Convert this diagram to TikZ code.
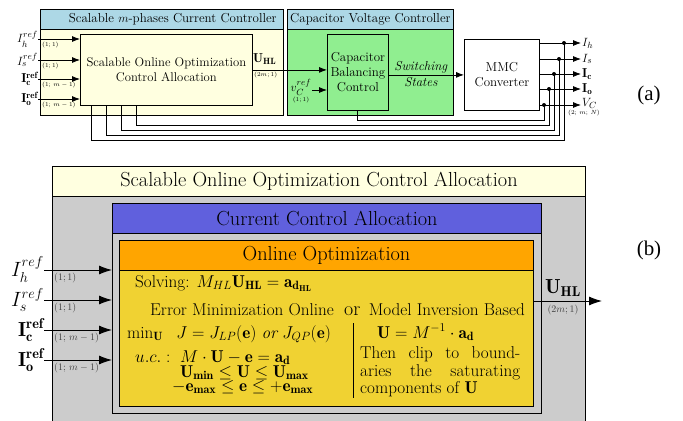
\documentclass[tikz,border=0pt]{standalone}
\usepackage{amsmath}
\usepackage{amssymb}
\usepackage{fontspec}
\newfontfamily\capfont{Liberation Serif}
\usepackage{tikz}
\usetikzlibrary{arrows.meta,positioning,calc}

\definecolor{hdrblue}{HTML}{ADD8E6}
\definecolor{paleyellow}{HTML}{FFFFE0}
\definecolor{ctrlgreen}{HTML}{90EE90}
\definecolor{allocgray}{HTML}{CCCCCC}
\definecolor{ccablue}{HTML}{6060DD}
\definecolor{optorange}{HTML}{FFA500}
\definecolor{optyellow}{HTML}{F0D232}

\tikzset{
  blk/.style={draw, line width=0.8bp, inner sep=0pt, anchor=north west},
  blkb/.style={blk, line width=1bp},
  sig/.style={-{Latex[length=8bp,width=6bp]}, line width=0.8bp},
  sigb/.style={-{Latex[length=13bp,width=9bp]}, line width=0.9bp},
  fb/.style={line width=0.7bp},
  dima/.style={font=\fontsize{6.5}{7}\selectfont, inner sep=0pt},
  dimb/.style={font=\fontsize{10}{11}\selectfont, text=black!75, inner sep=0pt},
  txa/.style={font=\fontsize{13}{15}\selectfont, align=center},
  txb/.style={font=\fontsize{17.2}{19}\selectfont, inner sep=0pt, anchor=base west},
  hdb/.style={font=\fontsize{20.4}{23}\selectfont},
}

\begin{document}
\begin{tikzpicture}[x=1bp, y=-1bp]
    \useasboundingbox (0,0) rectangle (683,420);

    % (a) current controller
    \node[blk, fill=paleyellow, minimum width=243bp, minimum height=106bp] (scc) at (40,9) {};
    \node[blk, fill=hdrblue, minimum width=243bp, minimum height=20bp] (scchd) at (40,9) {};
    \node[txa, anchor=east, inner sep=0pt] (scctitle) at ($(scchd.east)+(-7,0)$) {Scalable $m$-phases Current Controller};
    \node[blk, fill=paleyellow, minimum width=172bp, minimum height=71bp, txa, font=\fontsize{12.7}{15}\selectfont] (soca) at (80,34) {Scalable Online Optimization\\Control Allocation};

    % (a) capacitor voltage controller
    \node[blk, fill=ctrlgreen, minimum width=166bp, minimum height=106bp] (cvc) at (287,9) {};
    \node[blk, fill=hdrblue, minimum width=166bp, minimum height=20bp, txa] (cvchd) at (287,9) {Capacitor Voltage Controller};
    \node[blk, fill=ctrlgreen, minimum width=61bp, minimum height=76bp, txa] (cbc) at (327,34) {Capacitor\\Balancing\\Control};

    % (a) converter
    \node[blk, fill=white, minimum width=75bp, minimum height=71bp, txa] (mmc) at (464,39) {MMC\\Converter};

    % (a) reference inputs
    \foreach \y/\lbl/\dim/\nm in {39/{$I_h^{ref}$}/{$(1;1)$}/ih, 60/{$I_s^{ref}$}/{$(1;1)$}/is,
        79/{$\mathbf{I_c^{ref}}$}/{$(1;\,m-1)$}/ic, 99/{$\mathbf{I_o^{ref}}$}/{$(1;\,m-1)$}/io} {
        \node[txa, anchor=east, inner sep=0pt] (\nm) at (38,\y) {\lbl};
        \draw[sig] (\nm.east) -- (\nm.east -| soca.west);
        \node[dima, anchor=north west] (\nm dim) at (42,\y+3) {\dim};
    }

    % (a) allocation output
    \draw[sig] (soca.east) -- (soca.east -| cbc.west);
    \node[txa, anchor=south west, inner sep=1bp] (uhla) at (252,66) {$\mathbf{U_{HL}}$};
    \node[dima, anchor=north west] (uhladim) at (254,72) {$(2m;1)$};

    % (a) capacitor reference
    \node[txa, inner sep=0pt] (vcref) at (301,87) {$v_C^{ref}$};
    \coordinate (vcin) at (312,90);
    \draw[sig] (vcin) -- (vcin -| cbc.west);
    \node[dima] (vcdim) at (301,100) {$(1;1)$};

    % (a) switching states
    \draw[sig] (mmc.west -| cbc.east) -- (mmc.west);
    \node[txa, inner sep=0pt] (sw1) at (421,67) {\textit{Switching}};
    \node[txa, inner sep=0pt] (sw2) at (421,82) {\textit{States}};

    % (a) measured outputs and feedback
    \foreach \y/\dx/\lev/\tx/\lbl/\nm in {43/564/140/91/{$I_h$}/outh, 59/559/135/106/{$I_s$}/outs,
        74/554/130/121/{$\mathbf{I_c}$}/outc, 89/549/125/136/{$\mathbf{I_o}$}/outo} {
        \coordinate (s\nm) at (mmc.east |- 0,\y);
        \coordinate (d\nm) at (\dx,\y);
        \node[txa, anchor=west, inner sep=1bp] (\nm) at (581,\y) {\lbl};
        \draw[sig] (s\nm) -- (\nm.west);
        \fill (d\nm) circle (2bp);
        \draw[fb] (d\nm) -- (\dx,\lev) -- (\tx,\lev) -- (soca.south -| \tx,0);
    }
    \coordinate (soutv) at (mmc.east |- 0,105);
    \coordinate (doutv) at (544,105);
    \node[txa, anchor=west, inner sep=1bp] (outv) at (581,103) {$V_C$};
    \draw[sig] (soutv) -- (soutv -| outv.west);
    \fill (doutv) circle (2bp);
    \draw[fb] (doutv) -- (544,120) -- (357,120) -- (cbc.south -| 357,0);
    \node[dima] (outvdim) at (584,113) {$(2;\,m;\,N)$};

    \node[font=\capfont\fontsize{21}{23}\selectfont] (lbla) at (649,95) {(a)};

    % (b) nested allocation boxes
    \node[blkb, fill=allocgray, minimum width=533bp, minimum height=262bp] (soc) at (52,166) {};
    \node[blkb, fill=paleyellow, minimum width=533bp, minimum height=30bp, hdb] (sochd) at (52,166) {Scalable Online Optimization Control Allocation};
    \node[blkb, fill=allocgray, minimum width=429bp, minimum height=210bp] (cca) at (112,203) {};
    \node[blkb, fill=ccablue, minimum width=429bp, minimum height=30bp, hdb] (ccahd) at (112,203) {Current Control Allocation};
    \node[blkb, fill=optyellow, minimum width=414bp, minimum height=166bp] (onopt) at (119,240) {};
    \node[blkb, fill=optorange, minimum width=414bp, minimum height=30bp, hdb] (onopthd) at (119,240) {Online Optimization};

    % (b) reference inputs
    \foreach \y/\lbl/\dim/\nm in {270/{$I_h^{ref}$}/{$(1;1)$}/bih, 300/{$I_s^{ref}$}/{$(1;1)$}/bis,
        330/{$\mathbf{I_c^{ref}}$}/{$(1;\,m-1)$}/bic, 360/{$\mathbf{I_o^{ref}}$}/{$(1;\,m-1)$}/bio} {
        \node[hdb, anchor=east, inner sep=0pt] (\nm) at (44,\y) {\lbl};
        \draw[sigb] (\nm.east) -- (\nm.east -| cca.west);
        \node[dimb, anchor=north west] (\nm dim) at (54,\y+3) {\dim};
    }

    % (b) output
    \coordinate (uhlin) at (onopt.east |- 0,301);
    \coordinate (uhlout) at (602,301);
    \draw[sigb] (uhlin) -- (uhlout);
    \node[hdb, inner sep=0pt] (uhlb) at (563,288) {$\mathbf{U_{HL}}$};
    \node[dimb] (uhlbdim) at (563,310) {$(2m;1)$};

    % (b) optimization content
    \node[txb] (solv) at (135,287) {Solving: $M_{HL}\mathbf{U_{HL}} = \mathbf{a_{d_{HL}}}$};
    \node[txb] (emin) at (150,315) {Error Minimization Online};
    \node[txb, font=\fontsize{20}{22}\selectfont] (orw) at (344,315) {or};
    \node[txb, anchor=base east] (minv) at (525,315) {Model Inversion Based};
    \node[txb] (cost) at (127,338) {$\min_{\mathbf{U}}\ \ J = J_{LP}(\mathbf{e})\ \textit{or}\ J_{QP}(\mathbf{e})$};
    \node[txb] (inv) at (377,338) {$\mathbf{U} = M^{-1}\cdot\mathbf{a_d}$};
    \coordinate (sept) at (353,323);
    \coordinate (sepb) at (353,398);
    \draw[line width=0.6bp] (sept) -- (sepb);
    \node[txb] (uc) at (135,362) {$u.c.:$};
    \node[txb] (eqc) at (180,362) {$M\cdot\mathbf{U}-\mathbf{e}=\mathbf{a_d}$};
    \node[txb] (ubnd) at (180,377) {$\mathbf{U_{min}}\leq\mathbf{U}\leq\mathbf{U_{max}}$};
    \node[txb] (ebnd) at (172,391) {$-\mathbf{e_{max}}\leq\mathbf{e}\leq+\mathbf{e_{max}}$};
    \node[txb] (clip1) at (360,358) {\makebox[160bp][s]{Then clip to bound-}};
    \node[txb] (clip2) at (360,376) {\makebox[160bp][s]{aries the saturating}};
    \node[txb] (clip3) at (360,393) {components of $\mathbf{U}$};

    \node[font=\capfont\fontsize{21}{23}\selectfont] (lblb) at (649,250) {(b)};

\end{tikzpicture}
\end{document}
